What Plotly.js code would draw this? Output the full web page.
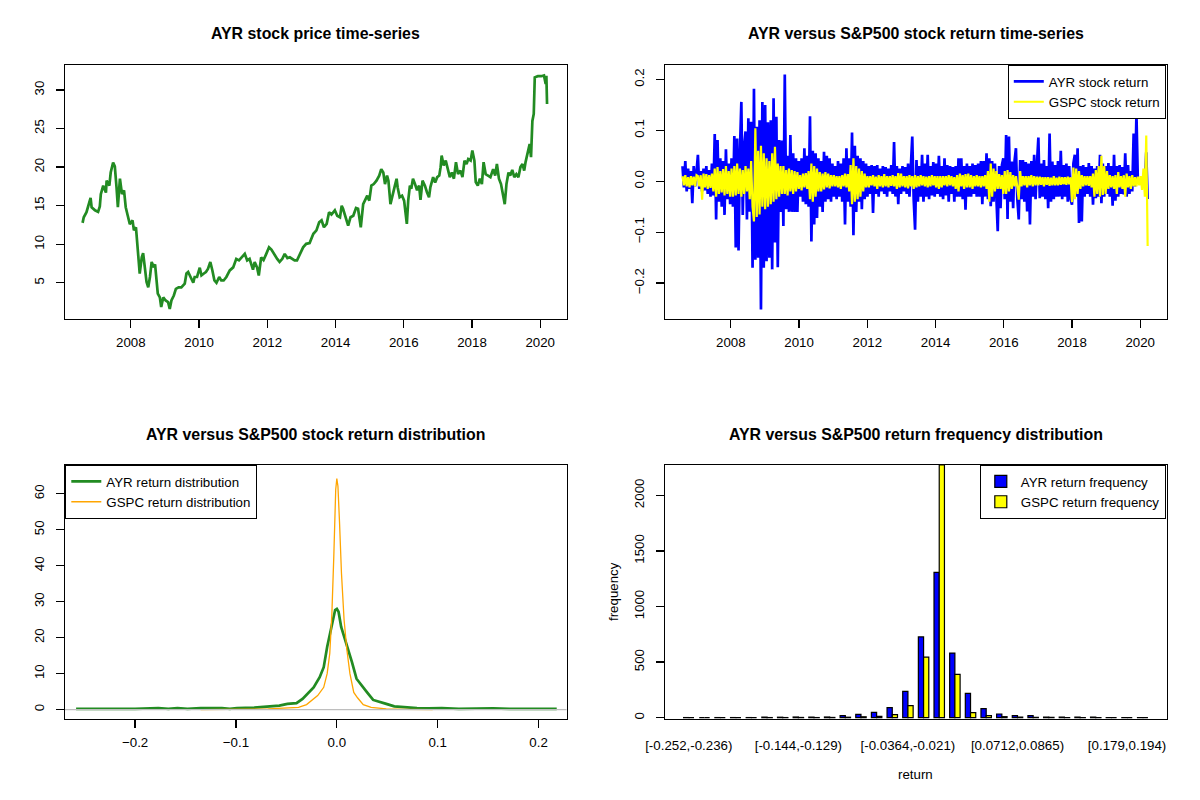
<!DOCTYPE html>
<html>
<head>
<meta charset="utf-8">
<script src="https://cdn.plot.ly/plotly-3.0.1.min.js"></script>
<style>
  body { margin: 0; background: white; }
  #chart { width: 1200px; height: 800px; }
</style>
</head>
<body>
<div id="chart"></div>
<script>
// ---- AYR price (decimal year, USD) ----
var priceYear = [2006.585, 2006.62, 2006.70, 2006.82, 2006.85, 2006.95, 2007.04, 2007.09, 2007.12, 2007.19,
  2007.27, 2007.29, 2007.37, 2007.41, 2007.48, 2007.53, 2007.58, 2007.62, 2007.68, 2007.74,
  2007.80, 2007.85, 2007.91, 2007.97, 2008.05, 2008.09, 2008.15, 2008.19, 2008.22, 2008.26,
  2008.32, 2008.36, 2008.41, 2008.46, 2008.51, 2008.56, 2008.61, 2008.67, 2008.71, 2008.75,
  2008.79, 2008.85, 2008.89, 2008.95, 2009.02, 2009.09, 2009.14, 2009.19, 2009.26, 2009.32,
  2009.40, 2009.48, 2009.58, 2009.63, 2009.68, 2009.75, 2009.83, 2009.87, 2009.94, 2010.02,
  2010.07, 2010.14, 2010.20, 2010.26, 2010.33, 2010.39, 2010.45, 2010.51, 2010.59, 2010.65,
  2010.72, 2010.80, 2010.90, 2011.00, 2011.09, 2011.17, 2011.24, 2011.34, 2011.41, 2011.48,
  2011.58, 2011.63, 2011.70, 2011.75, 2011.82, 2011.89, 2011.97, 2012.05, 2012.12, 2012.22,
  2012.29, 2012.36, 2012.44, 2012.51, 2012.59, 2012.66, 2012.73, 2012.80, 2012.87, 2012.95,
  2013.05, 2013.14, 2013.24, 2013.35, 2013.44, 2013.52, 2013.59, 2013.66, 2013.74, 2013.81,
  2013.88, 2013.98, 2014.05, 2014.13, 2014.18, 2014.22, 2014.30, 2014.37, 2014.44, 2014.52,
  2014.60, 2014.66, 2014.71, 2014.74, 2014.81, 2014.86, 2014.93, 2014.99, 2015.05, 2015.12,
  2015.20, 2015.28, 2015.34, 2015.40, 2015.45, 2015.51, 2015.55, 2015.61, 2015.67, 2015.74,
  2015.79, 2015.82, 2015.88, 2015.95, 2016.01, 2016.06, 2016.09, 2016.13, 2016.18, 2016.22,
  2016.27, 2016.33, 2016.39, 2016.45, 2016.49, 2016.55, 2016.62, 2016.68, 2016.74, 2016.78,
  2016.86, 2016.92, 2016.98, 2017.04, 2017.08, 2017.11, 2017.17, 2017.23, 2017.29, 2017.35,
  2017.41, 2017.47, 2017.53, 2017.59, 2017.66, 2017.72, 2017.78, 2017.84, 2017.89, 2017.96,
  2018.01, 2018.07, 2018.11, 2018.17, 2018.23, 2018.29, 2018.34, 2018.40, 2018.47, 2018.54,
  2018.62, 2018.68, 2018.73, 2018.79, 2018.85, 2018.91, 2018.96, 2019.01, 2019.07, 2019.12,
  2019.18, 2019.24, 2019.30, 2019.36, 2019.42, 2019.48, 2019.53, 2019.57, 2019.64, 2019.69,
  2019.73, 2019.77, 2019.81, 2019.84, 2019.93, 2020.03, 2020.11, 2020.16, 2020.18, 2020.20];
var priceValue = [12.77, 13.5, 14.15, 16.0, 14.8, 14.4, 14.2, 14.9, 16.5, 17.6,
  16.7, 18.25, 17.6, 19.3, 20.6, 20.1, 17.4, 14.8, 18.5, 16.5,
  17.0, 14.8, 13.7, 12.6, 13.1, 11.8, 12.2, 9.6, 7.7, 6.2,
  8.3, 8.85, 7.0, 5.1, 4.4, 5.75, 7.7, 7.0, 7.4, 5.3,
  3.6, 3.1, 1.85, 3.1, 2.7, 2.5, 1.6, 2.7, 3.35, 4.2,
  4.4, 4.4, 4.9, 6.2, 6.4, 5.75, 5.0, 5.75, 5.75, 6.95,
  5.95, 6.2, 6.4, 6.8, 7.7, 6.6, 5.3, 5.0, 5.75, 5.3,
  5.3, 5.75, 6.6, 7.0, 8.1, 7.9, 8.3, 8.75, 7.9, 8.1,
  6.7, 7.7, 7.0, 5.95, 8.3, 7.95, 8.75, 9.6, 9.3, 8.5,
  8.1, 7.7, 8.1, 8.75, 8.2, 8.3, 8.1, 7.9, 7.9, 8.75,
  9.6, 10.05, 10.15, 11.35, 11.8, 12.85, 13.1, 12.2, 12.65, 14.15,
  13.85, 14.4, 13.7, 13.5, 15.0, 14.6, 13.3, 12.4, 13.5, 13.7,
  14.7, 14.6, 13.1, 12.2, 15.2, 15.65, 16.3, 15.65, 17.6, 17.8,
  18.25, 18.9, 19.75, 19.3, 17.8, 18.9, 18.25, 15.2, 16.5, 17.6,
  18.5, 17.4, 16.1, 16.3, 15.65, 14.15, 12.65, 15.65, 17.6, 17.2,
  18.5, 17.8, 17.0, 17.6, 15.75, 18.25, 17.6, 16.75, 16.1, 17.4,
  18.7, 18.0, 18.7, 18.9, 20.0, 21.5, 20.2, 20.85, 19.55, 18.7,
  19.3, 18.5, 20.65, 19.1, 19.55, 18.7, 20.85, 20.4, 21.05, 20.85,
  22.15, 20.85, 18.05, 17.6, 18.5, 17.8, 20.65, 19.1, 18.9, 18.7,
  19.75, 18.9, 20.4, 18.5, 17.8, 16.5, 15.2, 17.8, 19.3, 18.9,
  19.65, 18.7, 19.1, 18.7, 20.0, 20.4, 19.55, 20.65, 22.15, 23.0,
  21.3, 26.0, 26.9, 31.65, 31.8, 31.8, 31.9, 30.8, 31.85, 28.2];

var retStartYear = 2006.583;
var retStepDays = 15;
var ayrReturn = [
  0.03, -0.012, 0.04, -0.02, 0.025, -0.015, 0.02, -0.043, 0.03, -0.01, 0.018,
  0.052, -0.015, 0.02, -0.02, 0.025, -0.018, 0.03, -0.025, 0.022, -0.03, 0.035, -0.028, 0.093, -0.075, 0.081, -0.04, 0.045, -0.05, 0.04, -0.066, 0.063, -0.035, 0.035, -0.045,
  0.045, -0.05, 0.089, -0.13, 0.084, -0.136, 0.06, 0.156, -0.066, 0.07, 0.098, -0.075, 0.124, -0.06, 0.117, -0.17, 0.182, -0.154, 0.107, -0.15, 0.12, -0.252, 0.156, -0.17,
  0.15, -0.157, 0.116, -0.15, 0.12, -0.173, 0.163, -0.12, 0.127, -0.169, 0.081, -0.06, 0.08, -0.088, 0.21, -0.055, 0.05, -0.06, 0.091, -0.06, 0.055, -0.06, 0.045, -0.06,
  0.04, -0.03, 0.045, -0.04, 0.065, -0.045, 0.05, -0.05, 0.128, -0.118, 0.06, -0.085, 0.055, -0.072, 0.045, -0.05, 0.04, -0.06, 0.058, -0.04, 0.05, -0.035, 0.045, -0.04, 0.035,
  -0.03, 0.03, -0.035, 0.04, -0.03, 0.035, -0.04, 0.045, -0.085, 0.065, -0.04, 0.045, -0.05, 0.096, -0.106, 0.07, -0.06, 0.05, -0.04, 0.045, -0.055, 0.04, -0.035, 0.035,
  -0.03, 0.03, -0.025, 0.032, -0.062, 0.03, -0.025, 0.032, -0.03, 0.025, -0.02, 0.03, -0.025, 0.028, -0.03, 0.025, -0.02, 0.032, -0.025, 0.077, -0.03, 0.03, -0.045, 0.025,
  -0.025, 0.03, -0.02, 0.028, -0.025, 0.035, -0.03, 0.03, 0.088, -0.035, -0.095, 0.042, -0.04, 0.03, -0.03, 0.052, -0.04, 0.035, -0.03, 0.052, -0.035, 0.03, -0.028, 0.038, -0.03,
  0.035, -0.025, 0.05, -0.03, 0.03, -0.035, 0.045, -0.028, 0.032, -0.04, 0.03, -0.025, 0.028, -0.04, 0.03, -0.03, 0.045, -0.03, 0.045, -0.035, 0.03, -0.056, 0.035, -0.03,
  0.03, -0.03, 0.035, -0.025, 0.032, -0.03, 0.035, -0.03, 0.04, -0.045, 0.04, -0.03, 0.055, -0.035, 0.045, -0.049, 0.04, -0.04, 0.035, -0.03, -0.098, 0.03, -0.053, 0.032,
  0.045, -0.035, 0.091, -0.074, 0.088, -0.04, 0.039, -0.053, 0.04, 0.065, -0.035, -0.075, 0.042, -0.035, 0.042, -0.04, 0.038, -0.059, 0.035, -0.085, 0.04, -0.03, 0.052, -0.035, 0.035,
  0.086, -0.033, 0.035, -0.03, 0.042, -0.035, 0.03, -0.053, 0.094, -0.04, 0.039, -0.035, 0.032, -0.03, 0.04, -0.03, 0.06, -0.035, 0.032, -0.03, 0.035, -0.04, 0.03, -0.035,
  -0.046, 0.035, 0.052, -0.03, 0.065, -0.082, 0.03, -0.079, 0.032, -0.03, 0.028, -0.025, 0.036, -0.03, 0.03, -0.046, 0.025, -0.033, 0.03, -0.03, 0.052, -0.043, 0.035, -0.03,
  0.03, -0.025, 0.036, -0.03, 0.03, -0.048, 0.052, -0.038, 0.03, -0.03, 0.032, -0.025, 0.028, -0.026, 0.055, -0.03, 0.032, -0.025, 0.02, -0.02, 0.094, -0.01, 0.133, 0.003, -0.002,
  0.002, -0.003, 0.002, -0.004, 0.057, -0.035];
var gspcReturn = [
  0.01, -0.008, 0.012, -0.01, 0.008, -0.012, 0.01, -0.008, 0.009, -0.01, 0.012,
  0.01, -0.01, 0.012, -0.036, 0.015, -0.012, 0.014, -0.015, 0.012, -0.013, 0.015, -0.02, 0.025, -0.03, 0.028, -0.025, 0.02, -0.022, 0.024, -0.028, 0.03, -0.025, 0.02, -0.03,
  0.025, -0.03, 0.03, -0.028, 0.035, -0.025, 0.025, -0.03, 0.022, -0.025, 0.03, -0.02, 0.025, -0.035, 0.04, -0.05, -0.079, 0.104, -0.07, 0.06, -0.065, 0.07, -0.05, 0.055,
  -0.055, 0.045, -0.05, 0.04, -0.045, 0.055, -0.04, 0.068, -0.035, 0.035, -0.03, 0.03, -0.025, 0.03, -0.025, 0.022, -0.028, 0.025, -0.02, 0.022, -0.025, 0.02, -0.02, 0.018,
  -0.015, 0.012, -0.018, 0.015, -0.012, 0.016, -0.015, 0.02, -0.035, 0.035, -0.04, 0.03, -0.03, 0.025, -0.02, 0.018, -0.02, 0.015, -0.016, 0.018, -0.012, 0.015, -0.014, 0.012, -0.01,
  0.012, -0.01, 0.01, -0.012, 0.01, -0.015, 0.012, -0.01, 0.015, -0.012, 0.014, -0.02, 0.032, -0.045, 0.045, -0.04, 0.03, -0.035, 0.025, -0.03, 0.02, -0.02, 0.015, -0.012,
  0.01, -0.012, 0.01, -0.008, 0.012, -0.01, 0.009, -0.015, 0.012, -0.01, 0.01, -0.012, 0.014, -0.01, 0.01, -0.012, 0.01, -0.009, 0.012, -0.01, 0.01, -0.015, 0.016, -0.012,
  0.015, -0.01, 0.01, -0.012, 0.01, -0.014, 0.012, -0.01, 0.01, -0.015, 0.012, -0.012, 0.01, -0.01, 0.012, -0.008, 0.01, -0.01, 0.009, -0.012, 0.01, -0.01, 0.012, -0.008, 0.01,
  -0.012, 0.01, -0.015, 0.01, -0.012, 0.01, -0.008, 0.01, -0.01, 0.012, -0.008, 0.01, -0.01, 0.008, -0.015, 0.012, -0.02, 0.015, -0.01, 0.012, -0.015, 0.014, -0.012, 0.015,
  -0.012, 0.012, -0.015, 0.01, -0.01, 0.012, -0.01, 0.01, -0.012, 0.01, -0.01, 0.012, -0.015, 0.02, -0.04, 0.035, -0.03, 0.025, -0.02, 0.02, -0.015, 0.014, -0.015, 0.012,
  -0.025, 0.02, -0.025, 0.022, -0.02, 0.018, -0.015, 0.012, -0.01, 0.01, -0.012, -0.036, 0.02, -0.01, 0.01, -0.008, 0.01, -0.012, 0.01, -0.008, 0.012, -0.01, 0.01, -0.008, 0.009,
  -0.008, 0.009, -0.007, 0.008, -0.01, 0.008, -0.007, 0.008, -0.009, 0.007, -0.008, 0.01, -0.008, 0.007, -0.008, 0.009, -0.007, 0.008, -0.006, 0.008, -0.007, 0.009, -0.006, 0.008,
  -0.041, 0.027, -0.035, 0.025, -0.025, 0.02, -0.015, 0.012, -0.01, 0.01, -0.008, 0.01, -0.009, 0.01, -0.012, 0.015, -0.03, 0.022, -0.025, 0.03, -0.03, 0.05, -0.027, 0.03,
  -0.025, 0.02, -0.015, 0.012, -0.012, 0.01, -0.015, 0.012, -0.025, 0.018, -0.012, 0.01, -0.015, 0.012, -0.03, 0.015, -0.012, 0.01, -0.015, 0.012, -0.01, 0.008, -0.01, 0.009, -0.008,
  0.01, -0.017, 0.025, -0.03, 0.09, -0.127];

// ---- kernel density of returns ----
var densAyrX = [-0.2585, -0.2, -0.177, -0.167, -0.158, -0.148, -0.135, -0.114, -0.106, -0.099,
  -0.082, -0.068, -0.057, -0.049, -0.04, -0.034, -0.029, -0.023, -0.017, -0.013,
  -0.0096, -0.007, -0.004, -0.0017, 0.0, 0.0017, 0.0043, 0.0074, 0.011, 0.015,
  0.0195, 0.0245, 0.030, 0.036, 0.0416, 0.049, 0.057, 0.068, 0.0795, 0.091,
  0.104, 0.121, 0.136, 0.155, 0.171, 0.218];
var densAyrY = [0.2, 0.2, 0.45, 0.2, 0.45, 0.2, 0.45, 0.45, 0.2, 0.45,
  0.55, 0.85, 1.1, 1.6, 1.8, 3.0, 4.4, 6.2, 9.0, 11.8,
  17.4, 20.7, 24.9, 27.7, 28.0, 27.2, 23.0, 20.2, 17.0, 13.2,
  8.6, 6.7, 4.8, 2.7, 2.3, 1.6, 0.9, 0.65, 0.45, 0.35,
  0.45, 0.2, 0.3, 0.35, 0.2, 0.2];
var densGspcX = [-0.135, -0.095, -0.068, -0.053, -0.038, -0.030, -0.025, -0.019, -0.013, -0.0096,
  -0.007, -0.0049, -0.003, -0.0011, 0.0, 0.0011, 0.0027, 0.0046, 0.0072, 0.010,
  0.013, 0.0168, 0.0205, 0.0262, 0.034, 0.0416, 0.049, 0.068, 0.095];
var densGspcY = [0.0, 0.1, 0.2, 0.45, 0.65, 1.4, 2.5, 3.9, 6.2, 10.0,
  15.6, 26.7, 42.6, 61.2, 64.2, 62.1, 51.9, 37.9, 24.9, 16.5,
  10.0, 4.8, 3.3, 1.4, 0.65, 0.45, 0.2, 0.1, 0.0];

// ---- return frequency per bin (30 bins of width ~0.0154 from -0.252) ----
var binIndex = [];
for (var b = 0; b < 30; b++) binIndex.push(b);
var ayrFreq = [1, 0, 1, 1, 1, 5, 4, 6, 5, 6, 18, 30, 48, 91, 236, 726, 1307, 581, 218, 82, 33, 18, 18, 6, 5, 5, 4, 1, 1, 1];
var gspcFreq = [0, 0, 0, 0, 0, 1, 1, 2, 1, 2, 4, 8, 12, 27, 109, 545, 2273, 390, 45, 18, 9, 4, 3, 2, 1, 1, 1, 0, 0, 0];
var binTickAt = [0, 7, 14, 21, 28];
var binTickText = ["[-0.252,-0.236)", "[-0.144,-0.129)", "[-0.0364,-0.021)", "[0.0712,0.0865)", "[0.179,0.194)"];

var retYear = ayrReturn.map(function (v, i) { return retStartYear + i * retStepDays / 365.25; });

// R draws at 96 dpi, so lwd 1 is about 1.33 px
var data = [
  { x: priceYear, y: priceValue, type: "scatter", mode: "lines", xaxis: "x", yaxis: "y",
    line: { color: "#228B22", width: 2.7 }, showlegend: false, hoverinfo: "skip" },
  { x: retYear, y: ayrReturn, type: "scatter", mode: "lines", xaxis: "x2", yaxis: "y2",
    name: "AYR stock return", legend: "legend", line: { color: "#0000FF", width: 2.7, simplify: false } },
  // sparser sampling than the daily series, so a slightly heavier stroke keeps the band solid
  { x: retYear, y: gspcReturn, type: "scatter", mode: "lines", xaxis: "x2", yaxis: "y2",
    name: "GSPC stock return", legend: "legend", line: { color: "#FFFF00", width: 2.2, simplify: false } },
  { x: densAyrX, y: densAyrY, type: "scatter", mode: "lines", xaxis: "x3", yaxis: "y3",
    name: "AYR return distribution", legend: "legend2", line: { color: "#228B22", width: 2.7 } },
  { x: densGspcX, y: densGspcY, type: "scatter", mode: "lines", xaxis: "x3", yaxis: "y3",
    name: "GSPC return distribution", legend: "legend2", line: { color: "#FFA500", width: 1.3 } },
  { x: binIndex, y: ayrFreq, type: "bar", xaxis: "x4", yaxis: "y4",
    name: "AYR return frequency", legend: "legend3",
    marker: { color: "#0000FF", line: { color: "black", width: 1.2 } } },
  { x: binIndex, y: gspcFreq, type: "bar", xaxis: "x4", yaxis: "y4",
    name: "GSPC return frequency", legend: "legend3",
    marker: { color: "#FFFF00", line: { color: "black", width: 1.2 } } }
];

function ax(extra) {
  var base = {
    showline: true, mirror: true, linecolor: "black", linewidth: 1.3,
    ticks: "outside", ticklen: 8, tickcolor: "black", tickwidth: 1.3,
    showgrid: false, zeroline: false, ticklabelstandoff: 3,
    tickfont: { size: 13.3, color: "black" }
  };
  for (var k in extra) base[k] = extra[k];
  return base;
}

var leftDom = [65 / 1200, 566.5 / 1200];
var rightDom = [665 / 1200, 1166.5 / 1200];
var topDom = [1 - 319 / 800, 1 - 65 / 800];
var botDom = [1 - 719 / 800, 1 - 465 / 800];
var yearTicks = [2008, 2010, 2012, 2014, 2016, 2018, 2020];

function legendAt(x, xanchor, y) {
  return { x: x, xanchor: xanchor, y: y, yanchor: "top", bgcolor: "white",
    bordercolor: "black", borderwidth: 1.3, font: { size: 13.3, color: "black" } };
}

function titleAt(text, x, y) {
  return { text: "<b>" + text + "</b>", xref: "paper", yref: "paper", x: x, y: y,
    xanchor: "center", yanchor: "middle", showarrow: false, font: { size: 15.9, color: "black" } };
}

var layout = {
  width: 1200, height: 800,
  margin: { l: 0, r: 0, t: 0, b: 0 },
  paper_bgcolor: "white", plot_bgcolor: "white",
  font: { family: "Liberation Sans, Arial, sans-serif", color: "black" },
  barmode: "group", bargap: 1 / 3, bargroupgap: 0,
  xaxis: ax({ domain: leftDom, anchor: "y", range: [2006.07, 2020.77], tickvals: yearTicks }),
  yaxis: ax({ domain: topDom, anchor: "x", range: [0.3, 33.25], tickvals: [5, 10, 15, 20, 25, 30], tickangle: -90, ticklabelstandoff: 6 }),
  xaxis2: ax({ domain: rightDom, anchor: "y2", range: [2006.07, 2020.77], tickvals: yearTicks }),
  yaxis2: ax({ domain: topDom, anchor: "x2", range: [-0.2705, 0.2285], tickvals: [-0.2, -0.1, 0, 0.1, 0.2],
    tickformat: ".1f", tickangle: -90, ticklabelstandoff: 6 }),
  xaxis3: ax({ domain: leftDom, anchor: "y3", range: [-0.2695, 0.2277], tickvals: [-0.2, -0.1, 0, 0.1, 0.2], tickformat: ".1f" }),
  yaxis3: ax({ domain: botDom, anchor: "x3", range: [-2.6, 68], tickvals: [0, 10, 20, 30, 40, 50, 60], tickangle: -90, ticklabelstandoff: 6 }),
  xaxis4: ax({ domain: rightDom, anchor: "y4", range: [-1.52, 30.52], tickvals: binTickAt, ticktext: binTickText,
    ticks: "", ticklabelstandoff: 14 }),
  yaxis4: ax({ domain: botDom, anchor: "x4", range: [-12, 2273], tickvals: [0, 500, 1000, 1500, 2000], tickangle: -90, ticklabelstandoff: 6 }),
  legend: legendAt(rightDom[1], "right", topDom[1]),
  legend2: legendAt(leftDom[0], "left", botDom[1]),
  legend3: legendAt(rightDom[1], "right", botDom[1]),
  shapes: [
    { type: "line", xref: "x3 domain", x0: 0, x1: 1, yref: "y3", y0: 0, y1: 0,
      line: { color: "#BEBEBE", width: 1.3 } }
  ],
  annotations: [
    titleAt("AYR stock price time-series", (leftDom[0] + leftDom[1]) / 2, 1 - 34 / 800),
    titleAt("AYR versus S&amp;P500 stock return time-series", (rightDom[0] + rightDom[1]) / 2, 1 - 34 / 800),
    titleAt("AYR versus S&amp;P500 stock return distribution", (leftDom[0] + leftDom[1]) / 2, 1 - 434 / 800),
    titleAt("AYR versus S&amp;P500 return frequency distribution", (rightDom[0] + rightDom[1]) / 2, 1 - 434 / 800),
    { text: "return", xref: "paper", yref: "paper", x: (rightDom[0] + rightDom[1]) / 2, y: 1 - 774 / 800,
      xanchor: "center", yanchor: "middle", showarrow: false, font: { size: 13.3, color: "black" } },
    { text: "frequency", xref: "paper", yref: "paper", x: 613 / 1200, y: (botDom[0] + botDom[1]) / 2,
      xanchor: "center", yanchor: "middle", textangle: -90, showarrow: false, font: { size: 13.3, color: "black" } }
  ]
};

Plotly.newPlot("chart", data, layout, { staticPlot: true, displayModeBar: false });
</script>
</body>
</html>
